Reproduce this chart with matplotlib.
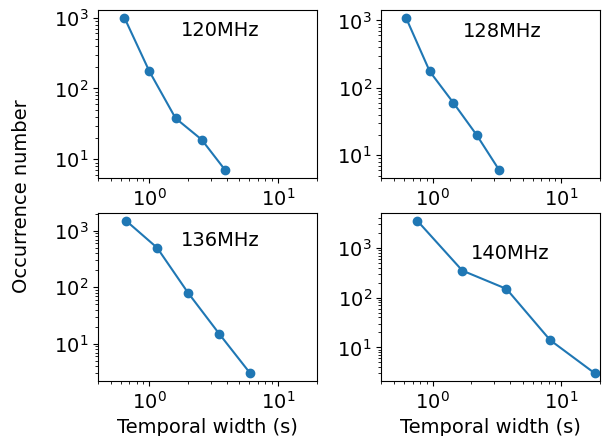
import matplotlib
matplotlib.use('Agg')
import matplotlib.pyplot as plt

plt.rcParams['font.size'] = 14

labels = ['120MHz', '128MHz', '136MHz', '140MHz']

width_120 = [0.64, 1.0, 1.6, 2.55, 3.9]
count_120 = [1000, 175, 38, 19, 7]

width_128 = [0.62, 0.95, 1.45, 2.2, 3.3]
count_128 = [1100, 175, 60, 20, 6]

width_136 = [0.66, 1.15, 2.0, 3.5, 6.1]
count_136 = [1500, 500, 80, 15, 3]

width_140 = [0.76, 1.7, 3.75, 8.2, 18.3]
count_140 = [3500, 350, 150, 14, 3]

widths = [width_120, width_128, width_136, width_140]
counts = [count_120, count_128, count_136, count_140]
label_pos = [(0.56, 0.88), (0.555, 0.87), (0.56, 0.84), (0.59, 0.76)]

fig, axs = plt.subplots(2, 2, figsize=(6.06, 4.36), dpi=100)
fig.subplots_adjust(left=0.162, right=0.99, top=0.977, bottom=0.126,
                    wspace=0.297, hspace=0.21)

for ax, w, c, lab, pos in zip(axs.flat, widths, counts, labels, label_pos):
    ax.plot(w, c, 'o-', color='#1f77b4')
    ax.set_xscale('log')
    ax.set_yscale('log')
    ax.set_xlim(0.4, 20)
    ax.text(pos[0], pos[1], lab, transform=ax.transAxes, ha='center', va='center')

axs[1, 0].set_xlabel('Temporal width (s)')
axs[1, 1].set_xlabel('Temporal width (s)')
fig.text(0.035, 0.55, 'Occurrence number', rotation=90, ha='center', va='center')

fig.savefig('out.png', dpi=100)
